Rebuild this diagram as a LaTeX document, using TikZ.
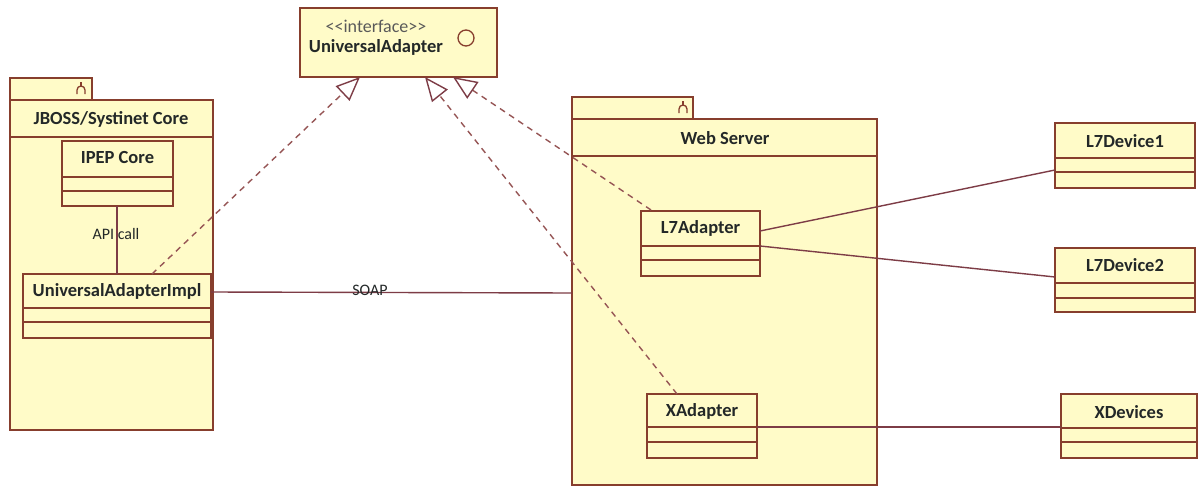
\documentclass[tikz,border=0pt]{standalone}
\usepackage{fontspec}
\setmainfont{Carlito}
\usetikzlibrary{arrows.meta}
\definecolor{umlfill}{RGB}{255,251,200}
\definecolor{umlline}{RGB}{135,62,45}
\definecolor{connline}{RGB}{125,60,70}
\definecolor{dashline}{RGB}{150,85,85}
\definecolor{txt}{RGB}{35,40,40}
\tikzset{
  box/.style={draw=umlline, fill=umlfill, line width=1.6pt, inner sep=0pt, outer sep=0pt, anchor=north west},
  sepline/.style={draw=umlline, line width=1.6pt},
  title/.style={font=\fontsize{18.5}{20}\selectfont\bfseries, text=txt, inner sep=0pt},
  plain/.style={font=\fontsize{16}{18}\selectfont, text=txt, inner sep=0pt},
  conn/.style={draw=connline, line width=1.4pt},
  realize/.style={draw=dashline, line width=1.4pt, dash pattern=on 6pt off 5pt,
    -{Triangle[open, length=24pt, width=20pt, line width=1.4pt, color=connline]}},
}
\newcommand\umlcls[9]{% name, x1, y1, x2, y2, sep1, sep2, label, title-y
  \node[box, minimum width={#4-#2}, minimum height={#5-#3}] (#1) at (#2,#3) {};
  \draw[sepline] (#2,#6) -- (#4,#6);
  \draw[sepline] (#2,#7) -- (#4,#7);
  \node[title] (#1-t) at ({(#2+#4)/2},#9) {#8};
}
\newcommand\pkgicon[2]{%
  \draw[umlline, line width=1.3pt] (#1-4,#2+6) -- (#1-4,#2+2) arc (180:360:4) -- (#1+4,#2+6);
  \draw[umlline, line width=1.3pt] (#1,#2-2) -- (#1,#2-6);
}
\begin{document}
\begin{tikzpicture}[x=1pt,y=-1pt]
\useasboundingbox[fill=white] (0,0) rectangle (1201,487);

% interface
\node[box, minimum width=197, minimum height=69] (iface) at (300,8) {};
\node[plain, font=\fontsize{18}{20}\selectfont, text=black!65] (iface-s) at (376,26) {<{}<interface>{}>};
\node[title] (iface-t) at (376,47) {UniversalAdapter};
\draw[umlline, line width=1.3pt] (466,38) circle (8);
\coordinate (tip1) at (360,77);
\coordinate (tip2) at (425,77);
\coordinate (tip3) at (453,77);

% JBOSS package
\node[box, minimum width=82, minimum height=22] (jbtab) at (10,78) {};
\node[box, minimum width=203, minimum height=330] (jboss) at (10,100) {};
\draw[sepline] (10,137) -- (213,137);
\node[title] (jboss-t) at (111,119) {JBOSS/Systinet Core};
\pkgicon{81}{88}

\umlcls{ipep}{62}{141}{173}{206}{177}{191}{IPEP Core}{158}
\umlcls{impl}{23}{274}{211}{338}{308}{322}{UniversalAdapterImpl}{291}

% Web Server package
\node[box, minimum width=121, minimum height=22] (wstab) at (572,97) {};
\node[box, minimum width=305, minimum height=366] (web) at (572,119) {};
\draw[sepline] (572,156) -- (877,156);
\node[title] (web-t) at (725,138) {Web Server};
\pkgicon{683}{107}

\umlcls{l7a}{641}{211}{760}{276}{246}{260}{L7Adapter}{228}
\umlcls{xa}{647}{394}{757}{458}{427}{442}{XAdapter}{411}

% devices
\umlcls{d1}{1055}{123}{1195}{188}{158}{172}{L7Device1}{141}
\umlcls{d2}{1055}{248}{1195}{312}{283}{298}{L7Device2}{265}
\umlcls{xd}{1061}{394}{1197}{458}{428}{442}{XDevices}{412}

% connectors
\draw[conn] (ipep.south -| 117,0) -- (impl.north -| 117,0);
\node[plain] (apicall) at (116,234) {API call};

\coordinate (soapA) at (211,292);
\coordinate (soapB) at (572,293);
\draw[conn] (soapA) -- (soapB);
\node[plain] (soap) at (370,290) {SOAP};

\coordinate (l7r1) at (760,231);
\coordinate (l7r2) at (760,246);
\coordinate (d1l) at (1055,170);
\coordinate (d2l) at (1055,277);
\draw[conn] (l7r1) -- (d1l);
\draw[conn] (l7r2) -- (d2l);
\coordinate (xar) at (757,427);
\coordinate (xdl) at (1061,427);
\draw[conn] (xar) -- (xdl);

% realizations
\coordinate (implTop) at (152,274);
\coordinate (xaTop) at (677,394);
\coordinate (l7aTop) at (651,210);
\draw[realize] (implTop) -- (tip1);
\draw[realize] (xaTop) -- (tip2);
\draw[realize] (l7aTop) -- (tip3);
\end{tikzpicture}
\end{document}
